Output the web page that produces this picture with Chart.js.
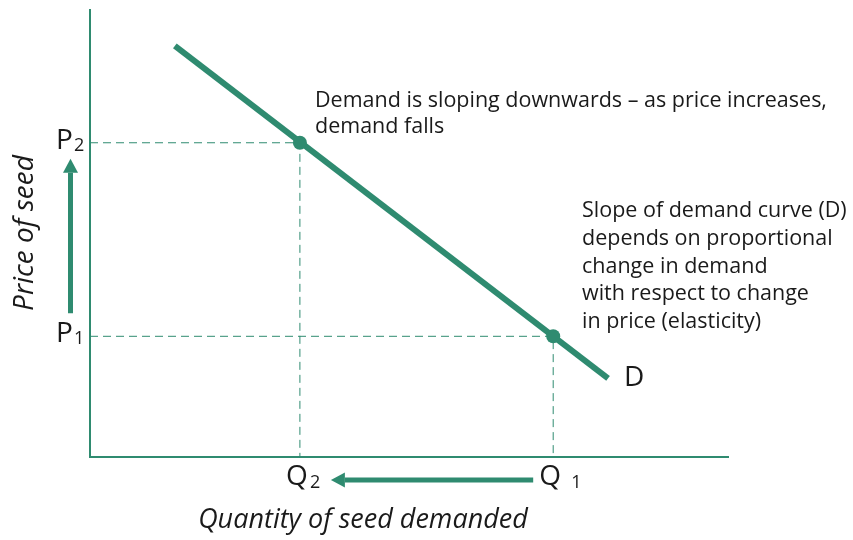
<!DOCTYPE html>
<html>
<head>
<meta charset="utf-8">
<script src="https://cdn.jsdelivr.net/npm/chart.js@4"></script>
<style>
  body { margin: 0; background: #fff; }
  #wrap { width: 853px; height: 540px; }
</style>
</head>
<body>
<div id="wrap"><canvas id="myChart" width="853" height="540"></canvas></div>
<script>
// data (arbitrary units)
const demandQ = [1.33, 8.12];
const demandP = [9.2, 1.76];
const quantity = [3.29, 7.26];   // Q2, Q1
const price = [7.03, 2.70];      // P2, P1
const subs = ['2', '1'];
const note1 = ['Demand is sloping downwards \u2013 as price increases,', 'demand falls'];
const note2 = ['Slope of demand curve (D)', 'depends on proportional', 'change in demand', 'with respect to change', 'in price (elasticity)'];

const teal = '#2f8b70';
const ink = '#1a1a1a';
const FONT = '"Open Sans", sans-serif';

const points = quantity.map((q, i) => ({x: q, y: price[i]}));
const demand = demandQ.map((q, i) => ({x: q, y: demandP[i]}));
const guides = quantity.map((q, i) => ({
  type: 'line',
  data: [{x: 0, y: price[i]}, {x: q, y: price[i]}, {x: q, y: 0}],
  showLine: true,
  borderColor: teal,
  borderWidth: 1,
  borderDash: [8, 5],
  pointRadius: 0,
  fill: false
}));

function arrow(ctx, x1, y1, x2, y2) {
  // shaft from (x1,y1), head tip at (x2,y2)
  const ang = Math.atan2(y2 - y1, x2 - x1);
  const headLen = 14, headW = 7.5;
  const bx = x2 - Math.cos(ang) * headLen, by = y2 - Math.sin(ang) * headLen;
  ctx.strokeStyle = teal;
  ctx.lineWidth = 5;
  ctx.beginPath();
  ctx.moveTo(x1, y1);
  ctx.lineTo(bx, by);
  ctx.stroke();
  ctx.fillStyle = teal;
  ctx.beginPath();
  ctx.moveTo(x2, y2);
  ctx.lineTo(bx + Math.sin(ang) * headW, by - Math.cos(ang) * headW);
  ctx.lineTo(bx - Math.sin(ang) * headW, by + Math.cos(ang) * headW);
  ctx.closePath();
  ctx.fill();
}

const annotate = {
  id: 'annotate',
  afterDraw(chart) {
    const {ctx, scales: {x, y}} = chart;
    ctx.save();
    ctx.fillStyle = ink;
    ctx.textBaseline = 'alphabetic';

    // P labels
    price.forEach((p, i) => {
      const py = y.getPixelForValue(p);
      ctx.font = '28px ' + FONT;
      ctx.textAlign = 'left';
      ctx.fillText('P', 56, py + 6);
      ctx.font = '18px ' + FONT;
      ctx.fillText(subs[i], 74, py + 8);
    });
    // Q labels
    quantity.forEach((q, i) => {
      const qx = x.getPixelForValue(q);
      ctx.font = '28px ' + FONT;
      ctx.textAlign = 'center';
      ctx.fillText('Q', qx - 3, 485);
      ctx.font = '18px ' + FONT;
      ctx.textAlign = 'left';
      ctx.fillText(subs[i], qx + (i === 0 ? 10 : 18), 488);
    });

    // arrows
    const p2y = y.getPixelForValue(price[0]), p1y = y.getPixelForValue(price[1]);
    arrow(ctx, 70.5, p1y - 23, 70.5, p2y + 16);
    const q2x = x.getPixelForValue(quantity[0]), q1x = x.getPixelForValue(quantity[1]);
    arrow(ctx, q1x - 20, 480, q2x + 31, 480);

    // notes
    ctx.fillStyle = ink;
    ctx.textAlign = 'left';
    ctx.font = '21.5px ' + FONT;
    note1.forEach((t, i) => ctx.fillText(t, 315, 107 + i * 26));
    note2.forEach((t, i) => ctx.fillText(t, 582, 217 + i * 27.8));
    ctx.font = '28px ' + FONT;
    const d = demand[demand.length - 1];
    ctx.fillText('D', x.getPixelForValue(d.x) + 16, y.getPixelForValue(d.y) + 8);

    // axis titles
    ctx.font = 'italic 27px ' + FONT;
    ctx.textAlign = 'center';
    ctx.textBaseline = 'middle';
    ctx.fillText('Quantity of seed demanded', 363, 520);
    ctx.translate(25, 233);
    ctx.rotate(-Math.PI / 2);
    ctx.font = 'italic 28px ' + FONT;
    ctx.fillText('Price of seed', 0, 0);
    ctx.restore();
  }
};

const data = {
  datasets: [
    {
      type: 'scatter',
      data: points,
      pointRadius: 7,
      pointHoverRadius: 7,
      pointBackgroundColor: teal,
      pointBorderWidth: 0
    },
    {
      type: 'line',
      data: demand,
      borderColor: teal,
      borderWidth: 6,
      borderCapStyle: 'butt',
      pointRadius: 0,
      fill: false
    },
    ...guides
  ]
};

const config = {
  type: 'scatter',
  data,
  options: {
    responsive: false,
    animation: false,
    layout: { padding: { left: 90, top: 10, right: 125, bottom: 83 } },
    plugins: { legend: { display: false }, tooltip: { enabled: false } },
    scales: {
      x: {
        type: 'linear', min: 0, max: 10,
        ticks: { display: false },
        grid: { display: false, drawTicks: false },
        border: { display: true, color: teal, width: 2 }
      },
      y: {
        type: 'linear', min: 0, max: 10,
        ticks: { display: false },
        grid: { display: false, drawTicks: false },
        border: { display: true, color: teal, width: 2 }
      }
    }
  },
  plugins: [annotate]
};

Promise.all([
  document.fonts.load('20px "Open Sans"'),
  document.fonts.load('italic 24px "Open Sans"')
]).catch(() => {}).then(() => {
  new Chart(document.getElementById('myChart'), config);
});
</script>
</body>
</html>
